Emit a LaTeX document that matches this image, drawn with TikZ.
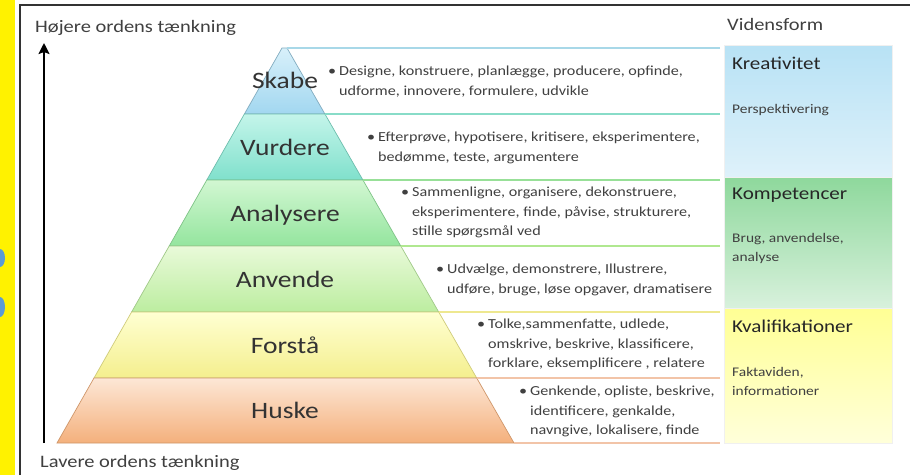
\documentclass[tikz,border=0pt]{standalone}
\usepackage{fontspec}
\setmainfont[FakeStretch=1.17]{Carlito}
\usetikzlibrary{arrows.meta}
\definecolor{skT}{HTML}{D8F0FA}\definecolor{skB}{HTML}{A2D7F0}
\definecolor{vuT}{HTML}{C4F5EA}\definecolor{vuB}{HTML}{80E0CC}
\definecolor{anT}{HTML}{D2F7D2}\definecolor{anB}{HTML}{94E59E}
\definecolor{avT}{HTML}{E9FAD9}\definecolor{avB}{HTML}{BCEDA0}
\definecolor{foT}{HTML}{FFFFD2}\definecolor{foB}{HTML}{F4EF8E}
\definecolor{huT}{HTML}{FDE7D6}\definecolor{huB}{HTML}{F4B07C}
\definecolor{l1}{HTML}{A8D8E8}\definecolor{l2}{HTML}{88DCC8}
\definecolor{l3}{HTML}{98E098}\definecolor{l4}{HTML}{B0E890}
\definecolor{l5}{HTML}{EEE890}\definecolor{l6}{HTML}{F2C4A8}
\definecolor{krT}{HTML}{B8E2F5}\definecolor{krB}{HTML}{DEF1FA}
\definecolor{koT}{HTML}{8ED89C}\definecolor{koB}{HTML}{D8F1DC}
\definecolor{kvT}{HTML}{FFFF94}\definecolor{kvB}{HTML}{FFFFDA}
\definecolor{ink}{HTML}{333333}
\definecolor{blob}{HTML}{5B9BD5}
\begin{document}
\begin{tikzpicture}[x=1pt,y=-1pt,
  lvl/.style={font=\fontsize{23.5}{26}\selectfont, text=ink, inner sep=0, anchor=base},
  desc/.style={font=\fontsize{13.8}{19.3}\selectfont, text=black!75, align=left, anchor=north west, inner sep=0},
  head/.style={font=\fontsize{18}{20}\selectfont, text=black!85, anchor=base west, inner sep=0},
  axislbl/.style={font=\fontsize{17.5}{20}\selectfont, text=black!75, anchor=base west, inner sep=0},
  band/.style={line width=1.6},
  level/.style={line width=0.7},
  vbox/.style={draw=black!6, line width=0.8},
]
\useasboundingbox (0,0) rectangle (910,475);
\fill[white] (0,0) rectangle (910,475);
% left yellow strip
\fill[yellow] (0,0) rectangle (15,475);
\fill[blob] (0,258) ellipse [x radius=5, y radius=9];
\fill[blob] (0,307) ellipse [x radius=5, y radius=10];
% frame
\draw[black!80, line width=1.5] (20,475) -- (20,5) -- (910,5);

% pyramid levels
\path[level, draw=skB!80!black, top color=skT, bottom color=skB] (282,48) -- (287,48) -- (324.9,114) -- (244.4,114) -- cycle;
\path[level, draw=vuB!85!black, top color=vuT, bottom color=vuB] (244.4,114) -- (324.9,114) -- (362.9,180) -- (206.8,180) -- cycle;
\path[level, draw=anB!85!black, top color=anT, bottom color=anB] (206.8,180) -- (362.9,180) -- (400.8,246) -- (169.2,246) -- cycle;
\path[level, draw=avB!85!black, top color=avT, bottom color=avB] (169.2,246) -- (400.8,246) -- (438.7,312) -- (131.6,312) -- cycle;
\path[level, draw=foB!85!black, top color=foT, bottom color=foB] (131.6,312) -- (438.7,312) -- (476.7,378) -- (94,378) -- cycle;
\path[level, draw=huB!85!black, top color=huT, bottom color=huB] (94,378) -- (476.7,378) -- (514,443) -- (57,443) -- cycle;

% band lines
\draw[band, l1] (287,48) -- (720,48);
\draw[band, l2] (324.9,114) -- (720,114);
\draw[band, l3] (362.9,180) -- (720,180);
\draw[band, l4] (400.8,246) -- (720,246);
\draw[band, l5] (438.7,312) -- (720,312);
\draw[band, l6] (476.7,378) -- (720,378);
\draw[band, l6] (514,443) -- (720,443);

% right column boxes
\path[vbox, top color=krT, bottom color=krB] (724,45) rectangle (892,177);
\path[vbox, top color=koT, bottom color=koB] (724,177) rectangle (892,308);
\path[vbox, top color=kvT, bottom color=kvB] (724,308) rectangle (892,443);

% level labels
\node[lvl] (skabe) at (285,88.5) {Skabe};
\node[lvl] (vurdere) at (285,155.5) {Vurdere};
\node[lvl] (analysere) at (285,221.5) {Analysere};
\node[lvl] (anvende) at (285,287.5) {Anvende};
\node[lvl] (forstaa) at (285,353.5) {Forstå};
\node[lvl] (huske) at (285,418.5) {Huske};

% descriptions
\node[desc] (dskabe) at (339,66) {\llap{•\hspace{3pt}}Designe, konstruere, planlægge, producere, opfinde,\\udforme, innovere, formulere, udvikle};
\node[desc] (dvurdere) at (378,132) {\llap{•\hspace{3pt}}Efterprøve, hypotisere, kritisere, eksperimentere,\\bedømme, teste, argumentere};
\node[desc] (danalysere) at (412,187) {\llap{•\hspace{3pt}}Sammenligne, organisere, dekonstruere,\\eksperimentere, finde, påvise, strukturere,\\stille spørgsmål ved};
\node[desc] (danvende) at (447,264) {\llap{•\hspace{3pt}}Udvælge, demonstrere, Illustrere,\\udføre, bruge, løse opgaver, dramatisere};
\node[desc] (dforstaa) at (488,319) {\llap{•\hspace{3pt}}Tolke,sammenfatte, udlede,\\omskrive, beskrive, klassificere,\\forklare, eksemplificere , relatere};
\node[desc] (dhuske) at (530,386) {\llap{•\hspace{3pt}}Genkende, opliste, beskrive,\\identificere, genkalde,\\navngive, lokalisere, finde};

% right column texts
\node[axislbl] (vidensform) at (727,30) {Vidensform};
\node[head] (kreativitet) at (732,69) {Kreativitet};
\node[desc, font=\fontsize{13.2}{19.3}\selectfont] (persp) at (732,104) {Perspektivering};
\node[head] (kompetencer) at (732,199) {Kompetencer};
\node[desc, font=\fontsize{13.2}{19.3}\selectfont] (brug) at (732,233) {Brug, anvendelse,\\analyse};
\node[head] (kvalifikationer) at (732,332) {Kvalifikationer};
\node[desc, font=\fontsize{13.2}{19.3}\selectfont] (fakta) at (732,367) {Faktaviden,\\informationer};

% axis
\node[axislbl] (hoejere) at (35,32) {Højere ordens tænkning};
\node[axislbl] (lavere) at (40,467) {Lavere ordens tænkning};
\coordinate (abot) at (44,443);
\coordinate (atop) at (44,43);
\draw[black, line width=2.6, -{Stealth[length=11pt,width=11pt,inset=2pt]}] (abot) -- (atop);
\end{tikzpicture}
\end{document}
